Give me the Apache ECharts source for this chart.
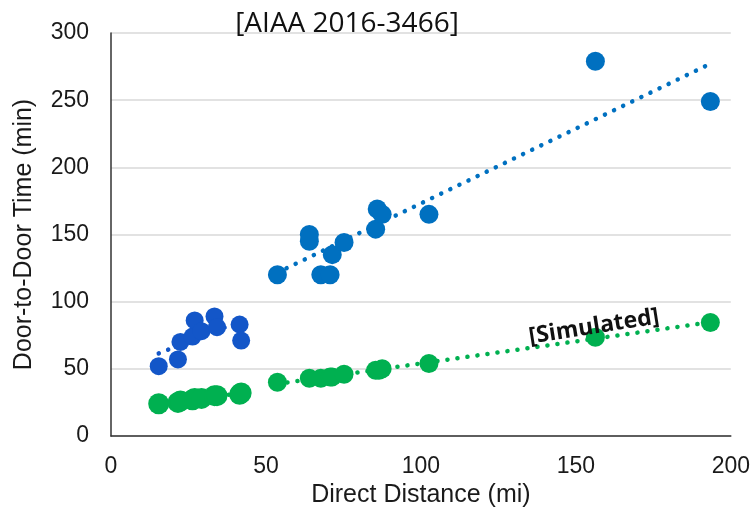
<!DOCTYPE html>
<html>
<head>
<meta charset="utf-8">
<script src="https://cdn.jsdelivr.net/npm/echarts@6/dist/echarts.min.js"></script>
<style>
	html, body { margin: 0; padding: 0; background: #fff; }
	#chart { width: 753px; height: 517px; }
</style>
</head>
<body>
<div id="chart"></div>
<script type="text/javascript">
	// 测量数据（短程 / 长程）
	var blueShortX = [15.4, 21.6, 22.4, 26.3, 27, 29.2, 33.4, 34.2, 41.5, 42];
	var blueShortY = [52, 57, 70, 74, 86, 78, 89, 81, 83, 71];
	var blueLongX = [53.7, 64, 64, 67.7, 70.7, 71.4, 75.2, 85.4, 85.9, 87.5, 102.6, 156.3, 193.4];
	var blueLongY = [120, 150, 145, 120, 120, 135, 144, 154, 169, 165, 165, 279, 249];

	// 模拟数据
	var greenShortX = [15.4, 21.6, 22.4, 26.3, 27, 29.2, 33.4, 34.2, 41.5, 42];
	var greenShortY = [24, 25, 26, 27, 28, 28, 30, 30, 31, 32];
	var greenLongX = [53.7, 64, 67.7, 70.7, 71.4, 75.2, 85.4, 86.5, 87.5, 102.6, 156.3, 193.4];
	var greenLongY = [40, 43, 43, 44, 44, 46, 49, 49, 50, 54, 73.5, 84.5];

	var xTicks = [0, 50, 100, 150, 200];
	var yTicks = [0, 50, 100, 150, 200, 250, 300];

	var darkBlue = '#1356c8';
	var blue = '#0070c0';
	var green = '#00b050';

	function pairs(xs, ys) {
		return xs.map(function (x, i) { return [x, ys[i]]; });
	}

	// 线性趋势线（最小二乘）
	function trend(xs, ys) {
		var n = xs.length, mx = 0, my = 0, sxy = 0, sxx = 0;
		for (var i = 0; i < n; i++) { mx += xs[i]; my += ys[i]; }
		mx /= n; my /= n;
		for (var j = 0; j < n; j++) {
			sxy += (xs[j] - mx) * (ys[j] - my);
			sxx += (xs[j] - mx) * (xs[j] - mx);
		}
		var b = sxy / sxx, a = my - b * mx;
		var x0 = Math.min.apply(null, xs), x1 = Math.max.apply(null, xs);
		return [[x0, a + b * x0], [x1, a + b * x1]];
	}

	function trendSeries(xs, ys, color) {
		return {
			type: 'line', data: trend(xs, ys), symbol: 'none', z: 1, silent: true,
			lineStyle: { color: color, width: 4.5, type: [0.1, 10], cap: 'round' }
		};
	}

	function dots(xs, ys, color, size) {
		return {
			type: 'scatter', data: pairs(xs, ys), symbolSize: size, z: 3,
			itemStyle: { color: color, opacity: 1 }
		};
	}

	var chart = echarts.init(document.getElementById('chart'));
	chart.setOption({
		animation: false,
		grid: { left: 111, right: 20, top: 33, bottom: 81 },
		xAxis: {
			type: 'value', min: xTicks[0], max: xTicks[xTicks.length - 1], interval: 50,
			name: 'Direct Distance (mi)', nameLocation: 'middle', nameGap: 46,
			nameTextStyle: { fontFamily: 'Liberation Sans', fontSize: 25, color: '#1a1a1a' },
			axisLine: { lineStyle: { color: '#333', width: 1.5 } },
			axisTick: { show: false },
			axisLabel: { fontFamily: 'Liberation Sans', fontSize: 23, color: '#1a1a1a', margin: 19 },
			splitLine: { show: false }
		},
		yAxis: {
			type: 'value', min: yTicks[0], max: yTicks[yTicks.length - 1], interval: 50,
			name: 'Door-to-Door Time (min)', nameLocation: 'middle', nameGap: 74,
			nameTextStyle: { fontFamily: 'Liberation Sans', fontSize: 25, color: '#1a1a1a' },
			axisLine: { show: true, lineStyle: { color: '#333', width: 1.5 } },
			axisTick: { show: false },
			axisLabel: { fontFamily: 'Liberation Sans', fontSize: 23, color: '#1a1a1a', margin: 22 },
			splitLine: { lineStyle: { color: '#d9d9d9', width: 1.5 } }
		},
		series: [
			trendSeries(blueShortX, blueShortY, darkBlue),
			trendSeries(blueLongX, blueLongY, blue),
			trendSeries(greenShortX, greenShortY, green),
			trendSeries(greenLongX, greenLongY, green),
			dots(blueShortX, blueShortY, darkBlue, 18),
			dots(blueLongX, blueLongY, blue, 19),
			dots(greenShortX, greenShortY, green, 21),
			dots(greenLongX, greenLongY, green, 19)
		],
		graphic: [
			{
				type: 'text', x: 347, y: 24, z: 10,
				style: { text: '[AIAA 2016-3466]', font: '28px "Open Sans"', fill: '#111',
					textAlign: 'center', textVerticalAlign: 'middle' }
			},
			{
				type: 'text', x: 594, y: 327, z: 10, rotation: 9 * Math.PI / 180,
				style: { text: '[Simulated]', font: 'bold 23px "Open Sans"', fill: '#111',
					textAlign: 'center', textVerticalAlign: 'middle' }
			}
		]
	});
</script>
</body>
</html>
